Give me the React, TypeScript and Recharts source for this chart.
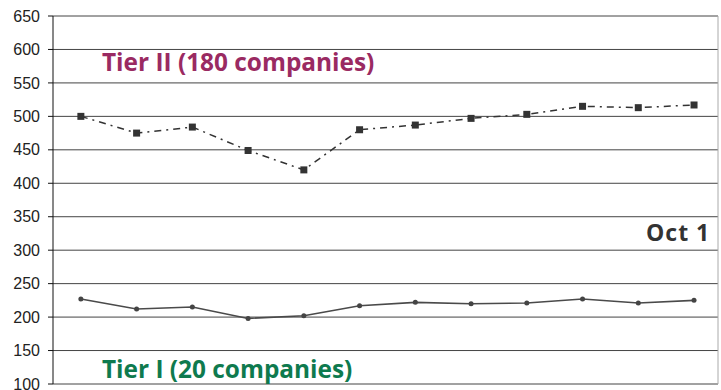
import React from "react";
import { LineChart, Line, XAxis, YAxis, CartesianGrid, ReferenceLine } from "recharts";

const positions = [0, 1, 2, 3, 4, 5, 6, 7, 8, 9, 10, 11];
const tier2Values = [500, 475, 484, 449, 420, 480, 487, 497, 503, 515, 513, 517];
const tier1Values = [227, 212, 215, 198, 202, 217, 222, 220, 221, 227, 221, 225];
const yTicks = [100, 150, 200, 250, 300, 350, 400, 450, 500, 550, 600, 650];

const data = positions.map((p, i) => ({ x: p, tier2: tier2Values[i], tier1: tier1Values[i] }));

const SquareDot = (props: any) => {
  const { cx, cy, index } = props;
  return <rect key={`sq-${index}`} x={cx - 3.5} y={cy - 3.5} width={7} height={7} fill="#333" />;
};

const SmallDot = (props: any) => {
  const { cx, cy, index } = props;
  return <circle key={`c-${index}`} cx={cx} cy={cy} r={2.5} fill="#444" />;
};

const labelBase: React.CSSProperties = {
  position: "absolute",
  fontFamily: "'Open Sans', sans-serif",
  fontWeight: 700,
  whiteSpace: "nowrap",
  lineHeight: 1,
};

export default function App() {
  return (
    <div style={{ position: "absolute", left: 0, top: 0, width: 721, height: 390, background: "#fff" }}>
      <LineChart width={721} height={390} data={data} margin={{ top: 16, right: 3, bottom: 6, left: 0 }}>
        <CartesianGrid vertical={false} stroke="#444" strokeWidth={1} />
        <XAxis dataKey="x" type="number" domain={[-0.5, 11.43]} hide />
        <YAxis
          domain={[100, 650]}
          ticks={yTicks}
          width={53}
          interval={0}
          axisLine={{ stroke: "#111" }}
          tickLine={{ stroke: "#111" }}
          tickSize={5}
          tickMargin={8}
          tick={{ fill: "#222", fontSize: 16, fontFamily: "'Liberation Sans', Arial, sans-serif" }}
        />
        <ReferenceLine x={11.43} stroke="#aaa" />
        <Line
          dataKey="tier2"
          stroke="#333"
          strokeWidth={1.5}
          strokeDasharray="7 5 2 5"
          dot={SquareDot}
          isAnimationActive={false}
        />
        <Line dataKey="tier1" stroke="#4a4a4a" strokeWidth={1.6} dot={SmallDot} isAnimationActive={false} />
      </LineChart>
      <div style={{ ...labelBase, left: 102, top: 50, fontSize: 24.4, color: "#9a2a62" }}>Tier II (180 companies)</div>
      <div style={{ ...labelBase, left: 102, top: 357, fontSize: 24.4, color: "#0e7a4e" }}>Tier I (20 companies)</div>
      <div style={{ ...labelBase, left: 646, top: 221, fontSize: 23, letterSpacing: 1, color: "#333" }}>Oct 1</div>
    </div>
  );
}
